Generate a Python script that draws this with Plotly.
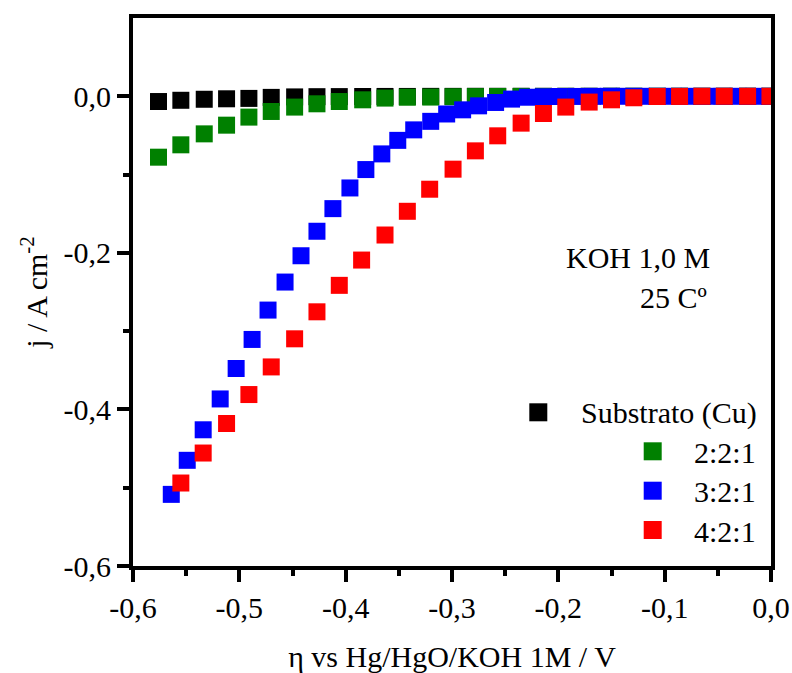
import plotly.graph_objects as go

# ---- data ----
x_sub = [-0.576, -0.555, -0.533, -0.512, -0.491, -0.470, -0.448, -0.427, -0.406, -0.384,
         -0.363, -0.342, -0.320, -0.299, -0.278, -0.257, -0.235, -0.214, -0.193, -0.171,
         -0.150, -0.129, -0.107, -0.086, -0.065, -0.044, -0.022, -0.001]
y_sub = [-0.0067, -0.0051, -0.0038, -0.0032, -0.0027, -0.0014, -0.0008, -0.0005, -0.0004, -0.0003,
         -0.0002, -0.0002, -0.0001, -0.0001, 0.0, 0.0, 0.0, 0.0, 0.0, 0.0,
         0.0, 0.0, 0.0, 0.0, 0.0, 0.0, 0.0, 0.0]

x_221 = list(x_sub)
y_221 = [-0.0778, -0.0620, -0.0480, -0.0369, -0.0266, -0.0194, -0.0138, -0.0096, -0.0067, -0.0045,
         -0.0023, -0.0012, -0.0010, -0.0006, -0.0004, -0.0003, -0.0002, -0.0002, -0.0001, -0.0001,
         0.0, 0.0, 0.0, 0.0, 0.0, 0.0, 0.0, 0.0]

x_321 = [-0.564, -0.549, -0.534, -0.518, -0.503, -0.488, -0.473, -0.457, -0.442, -0.427,
         -0.412, -0.396, -0.381, -0.366, -0.351, -0.336, -0.320, -0.305, -0.290, -0.275,
         -0.259, -0.244, -0.229, -0.214, -0.199, -0.183, -0.168, -0.153, -0.138, -0.122,
         -0.107, -0.092, -0.077, -0.061, -0.046, -0.031, -0.016, -0.001]
y_321 = [-0.5085, -0.4650, -0.4260, -0.3866, -0.3477, -0.3106, -0.2731, -0.2373, -0.2037, -0.1724,
         -0.1435, -0.1171, -0.0936, -0.0736, -0.0563, -0.0429, -0.0320, -0.0226, -0.0173, -0.0122,
         -0.0079, -0.0036, -0.0012, -0.0006, -0.0003, -0.0002, -0.0001, 0.0, 0.0, 0.0,
         0.0, 0.0, 0.0, 0.0, 0.0, 0.0, 0.0, 0.0]

x_421 = [-0.555, -0.534, -0.512, -0.491, -0.470, -0.448, -0.427, -0.406, -0.385, -0.363,
         -0.342, -0.321, -0.299, -0.278, -0.257, -0.235, -0.214, -0.193, -0.171, -0.150,
         -0.129, -0.107, -0.086, -0.065, -0.044, -0.022, -0.001]
y_421 = [-0.4940, -0.4557, -0.4180, -0.3810, -0.3457, -0.3098, -0.2753, -0.2415, -0.2092, -0.1772,
         -0.1469, -0.1187, -0.0931, -0.0697, -0.0505, -0.0343, -0.0220, -0.0138, -0.0074, -0.0045,
         -0.0019, -0.0003, -0.0002, 0.0, 0.0, 0.0, 0.0]

series_names = ["Substrato (Cu)", "2:2:1", "3:2:1", "4:2:1"]
series_colors = ["#000000", "#008000", "#0000FF", "#FF0000"]

x_tickvals = [-0.6, -0.5, -0.4, -0.3, -0.2, -0.1, 0.0]
x_ticktext = ["-0,6", "-0,5", "-0,4", "-0,3", "-0,2", "-0,1", "0,0"]
x_minor = [-0.55, -0.45, -0.35, -0.25, -0.15, -0.05]
y_tickvals = [-0.6, -0.4, -0.2, 0.0]
y_ticktext = ["-0,6", "-0,4", "-0,2", "0,0"]
y_minor = [-0.5, -0.3, -0.1]

# ---- figure ----
W, H = 792, 673
L, R, T, B = 133, 21, 18, 107
FONT = "Liberation Serif, Times New Roman, serif"
FS = 30

fig = go.Figure()
xs = [x_sub, x_221, x_321, x_421]
ys = [y_sub, y_221, y_321, y_421]
for xv, yv, name, col in zip(xs, ys, series_names, series_colors):
    fig.add_trace(go.Scatter(x=xv, y=yv, mode="markers", name=name,
                             marker=dict(symbol="square", size=17, color=col,
                                         line=dict(width=0)),
                             showlegend=False))

pw = W - L - R
ph = H - T - B

def px2paper(px, py):
    return (px - L) / pw, (H - B - py) / ph

shapes = []
annotations = []
# manual legend (Origin style, right-aligned)
leg = [(538.3, 412.3, 578.5), (652.7, 451.3, 692.0), (652.7, 490.7, 692.0), (652.7, 530.0, 692.0)]
for (mx, my, tx), name, col in zip(leg, series_names, series_colors):
    x0, y0 = px2paper(mx - 9, my + 9)
    x1, y1 = px2paper(mx + 9, my - 9)
    shapes.append(dict(type="rect", xref="paper", yref="paper", x0=x0, y0=y0, x1=x1, y1=y1,
                       fillcolor=col, line=dict(width=0)))
    ax, ay = px2paper(tx, my + 1)
    annotations.append(dict(xref="paper", yref="paper", x=ax, y=ay, text=name,
                            showarrow=False, xanchor="left", yanchor="middle",
                            font=dict(family=FONT, size=FS, color="black")))

ax, ay = px2paper(712, 257)
annotations.append(dict(xref="paper", yref="paper", x=ax, y=ay, text="KOH 1,0 M",
                        showarrow=False, xanchor="right", yanchor="middle",
                        font=dict(family=FONT, size=FS, color="black")))
ax, ay = px2paper(709, 297)
annotations.append(dict(xref="paper", yref="paper", x=ax, y=ay, text="25 Cº",
                        showarrow=False, xanchor="right", yanchor="middle",
                        font=dict(family=FONT, size=FS, color="black")))

axis_common = dict(showgrid=False, zeroline=False, showline=True, linecolor="black",
                   linewidth=4, mirror=True, ticks="outside", ticklen=12, tickwidth=4,
                   tickcolor="black", tickmode="array", automargin=False,
                   tickfont=dict(family=FONT, size=FS, color="black"))

fig.update_layout(
    width=W, height=H,
    margin=dict(l=L, r=R, t=T, b=B, pad=0, autoexpand=False),
    paper_bgcolor="white", plot_bgcolor="white",
    shapes=shapes, annotations=annotations,
    xaxis=dict(range=[-0.6, 0.0], tickvals=x_tickvals, ticktext=x_ticktext,
               minor=dict(tickmode="array", tickvals=x_minor, ticks="outside",
                          ticklen=6, tickwidth=4, tickcolor="black"),
               title=dict(text="η vs Hg/HgO/KOH 1M / V", standoff=24,
                          font=dict(family=FONT, size=FS, color="black")),
               **axis_common),
    yaxis=dict(range=[-0.6, 0.1], tickvals=y_tickvals, ticktext=y_ticktext,
               minor=dict(tickmode="array", tickvals=y_minor, ticks="outside",
                          ticklen=6, tickwidth=4, tickcolor="black"),
               title=dict(text="j / A cm<sup>-2</sup>", standoff=8,
                          font=dict(family=FONT, size=FS, color="black")),
               **axis_common),
)

fig.write_html("out.html")
